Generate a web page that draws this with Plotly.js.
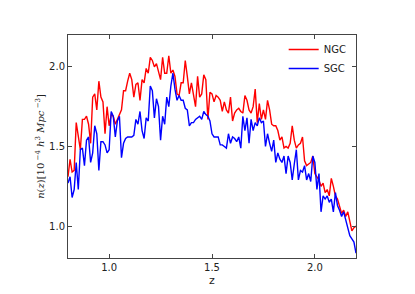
<!DOCTYPE html>
<html>
<head>
<meta charset="utf-8">
<script src="https://cdn.plot.ly/plotly-3.0.1.min.js"></script>
<style>html,body{margin:0;padding:0;background:#fff;}#chart{width:415px;height:294px;}</style>
</head>
<body>
<div id="chart"></div>
<script>
const z = [0.80,0.81,0.82,0.83,0.84,0.85,0.86,0.87,0.88,0.89,0.90,0.91,0.92,0.93,0.94,0.95,0.96,0.97,0.98,0.99,
1.00,1.01,1.02,1.03,1.04,1.05,1.06,1.07,1.08,1.09,1.10,1.11,1.12,1.13,1.14,1.15,1.16,1.17,1.18,1.19,
1.20,1.21,1.22,1.23,1.24,1.25,1.26,1.27,1.28,1.29,1.30,1.31,1.32,1.33,1.34,1.35,1.36,1.37,1.38,1.39,
1.40,1.41,1.42,1.43,1.44,1.45,1.46,1.47,1.48,1.49,1.50,1.51,1.52,1.53,1.54,1.55,1.56,1.57,1.58,1.59,
1.60,1.61,1.62,1.63,1.64,1.65,1.66,1.67,1.68,1.69,1.70,1.71,1.72,1.73,1.74,1.75,1.76,1.77,1.78,1.79,
1.80,1.81,1.82,1.83,1.84,1.85,1.86,1.87,1.88,1.89,1.90,1.91,1.92,1.93,1.94,1.95,1.96,1.97,1.98,1.99,
2.00,2.01,2.02,2.03,2.04,2.05,2.06,2.07,2.08,2.09,2.10,2.11,2.12,2.13,2.14,2.15,2.16,2.17,2.18,2.19,2.20];

const ngc = [1.31,1.42,1.34,1.35,1.65,1.56,1.48,1.67,1.67,1.69,1.64,1.52,1.81,1.83,1.73,1.91,1.81,1.78,1.58,1.75,
1.63,1.70,1.69,1.64,1.67,1.69,1.73,1.85,1.85,1.91,1.96,1.92,1.81,1.89,1.90,1.79,1.92,1.90,1.99,1.96,
2.06,2.04,2.00,2.02,1.96,1.92,2.06,1.96,1.96,2.07,1.96,1.98,1.94,1.83,1.82,1.90,1.90,2.04,1.94,1.83,
1.90,1.81,1.75,1.94,1.81,1.83,1.95,1.92,1.67,1.84,1.83,1.78,
1.82,1.81,1.79,1.72,1.78,1.73,1.71,1.81,1.66,1.71,1.73,1.74,1.72,1.71,1.82,1.79,1.73,1.71,1.75,
1.86,1.65,1.77,1.67,1.73,1.67,1.79,1.73,1.64,1.63,1.63,1.60,1.54,1.56,1.49,1.50,1.49,1.52,1.63,1.54,
1.49,1.51,1.52,1.56,1.41,1.38,1.39,1.40,1.44,1.33,1.31,1.29,1.25,1.27,1.21,1.23,1.19,1.30,1.25,1.19,
1.17,1.13,1.08,1.10,1.06,1.09,1.02,0.97,0.99,1.00];

const sgc = [1.27,1.31,1.18,1.23,1.40,1.23,1.48,1.49,1.38,1.54,1.56,1.40,1.46,1.63,1.58,1.35,1.53,1.53,1.51,1.46,
1.48,1.72,1.69,1.56,1.66,1.69,1.43,1.52,1.55,1.56,1.56,1.56,1.57,1.67,1.64,1.72,1.60,1.55,1.68,1.66,
1.88,1.85,1.68,1.80,1.75,1.54,1.69,1.64,1.81,1.75,1.88,1.96,1.86,1.79,1.82,1.79,1.79,1.74,1.73,1.63,
1.65,1.65,1.67,1.68,1.69,1.67,1.72,1.70,1.69,1.66,1.58,1.56,
1.56,1.56,1.51,1.51,1.50,1.49,1.58,1.52,1.56,1.55,1.53,1.56,1.49,1.69,1.60,1.68,1.52,1.67,1.60,
1.65,1.63,1.68,1.65,1.66,1.50,1.58,1.52,1.47,1.54,1.40,1.46,1.42,1.40,1.44,1.33,1.44,1.40,1.29,1.39,
1.48,1.29,1.35,1.34,1.38,1.29,1.33,1.28,1.44,1.40,1.23,1.33,1.09,1.19,1.17,1.19,1.15,1.17,1.09,1.21,
1.13,1.10,1.06,1.09,1.04,0.98,0.94,0.92,0.90,0.83];

const xTicks = [1.0, 1.5, 2.0];
const xTickText = ['1.0', '1.5', '2.0'];
const yTicks = [1.0, 1.5, 2.0];
const yTickText = ['1.0', '1.5', '2.0'];

const traces = [
  {x: z, y: ngc, name: 'NGC', type: 'scatter', mode: 'lines',
   line: {color: '#ff0000', width: 1.4}},
  {x: z, y: sgc, name: 'SGC', type: 'scatter', mode: 'lines',
   line: {color: '#0000ff', width: 1.4}}
];

const axisCommon = {
  showgrid: false, zeroline: false, showline: true, linecolor: '#444', linewidth: 1,
  mirror: 'ticks', ticks: 'inside', ticklen: 4, tickcolor: '#444', tickwidth: 1,
  tickfont: {family: 'DejaVu Sans', size: 10, color: '#222'}
};

const layout = {
  width: 415, height: 294,
  margin: {l: 68, r: 59, t: 35, b: 36},
  paper_bgcolor: '#fff', plot_bgcolor: '#fff',
  showlegend: true,
  legend: {x: 0.985, xanchor: 'right', y: 1.0, yanchor: 'top', bgcolor: 'rgba(0,0,0,0)',
           font: {family: 'DejaVu Sans', size: 10, color: '#222'}, itemwidth: 30, tracegroupgap: 0},
  xaxis: Object.assign({}, axisCommon, {
    range: [0.8, 2.2], tickvals: xTicks, ticktext: xTickText,
    title: {text: 'z', font: {family: 'DejaVu Sans', size: 11, color: '#222'}, standoff: 4}
  }),
  yaxis: Object.assign({}, axisCommon, {
    range: [0.8, 2.2], tickvals: yTicks, ticktext: yTickText,
    title: {text: '<i>n</i>(<i>z</i>)[10<sup> −4</sup> <i>h</i><sup>3</sup> <i>Mpc</i><sup> −3</sup>]',
            font: {family: 'DejaVu Serif', size: 10, color: '#222'}, standoff: 2}
  })
};

Plotly.newPlot('chart', traces, layout, {displayModeBar: false, staticPlot: true});
</script>
</body>
</html>
